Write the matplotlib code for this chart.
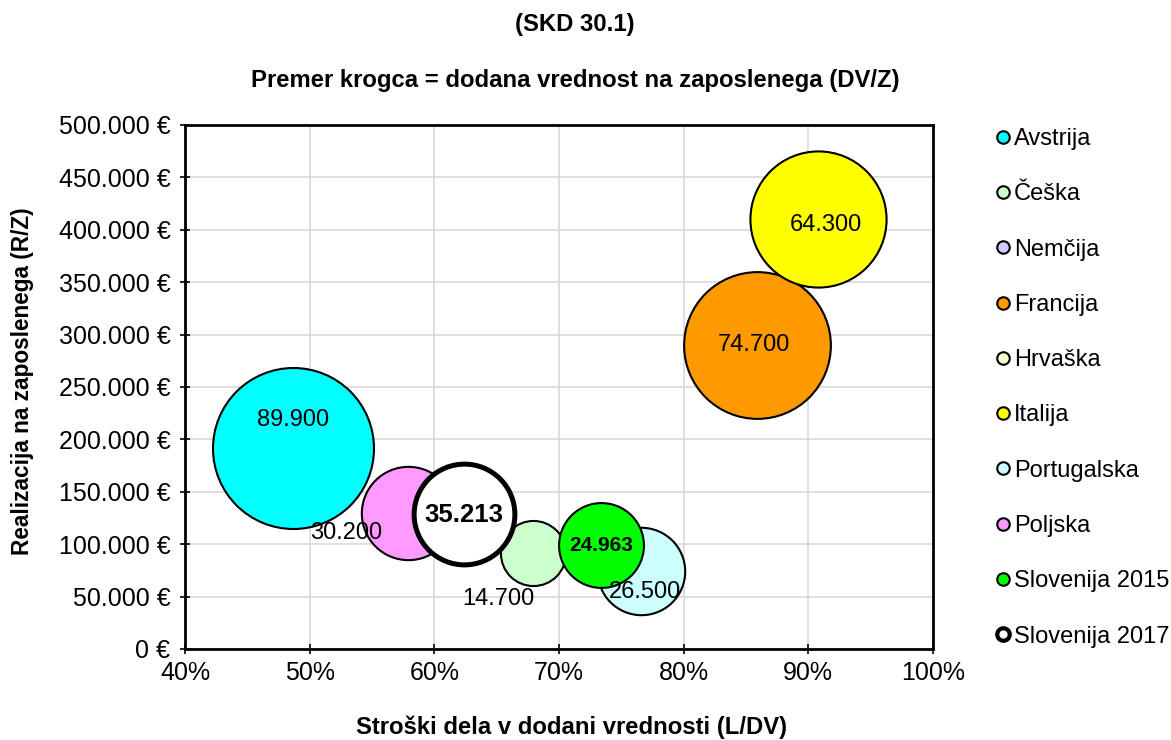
import matplotlib
matplotlib.use("Agg")
import matplotlib.pyplot as plt
from matplotlib.lines import Line2D
from matplotlib.ticker import FuncFormatter
import numpy as np

plt.rcParams['font.family'] = ['Liberation Sans', 'DejaVu Sans']

# ---- data ----
legend_names = ["Avstrija", "Češka", "Nemčija", "Francija", "Hrvaška", "Italija",
                "Portugalska", "Poljska", "Slovenija 2015", "Slovenija 2017"]
legend_colors = ["#00FFFF", "#CCFFCC", "#CCCCFF", "#FF9900", "#FFFFCC", "#FFFF00",
                 "#CCFFFF", "#FF99FF", "#00FF00", "#FFFFFF"]

bubble_names = ["Avstrija", "Češka", "Francija", "Italija", "Portugalska", "Poljska",
                "Slovenija 2015", "Slovenija 2017"]
labor_share = [48.7, 67.9, 85.9, 90.8, 76.6, 57.9, 73.4, 62.35]          # % L/DV
revenue_per_emp = [191800, 91300, 289600, 410500, 74400, 129800, 99500, 128800]  # R/Z
value_added = [89.9, 14.7, 74.7, 64.3, 26.5, 30.2, 24.963, 35.213]       # DV/Z (thousand)
value_labels = ["89.900", "14.700", "74.700", "64.300", "26.500", "30.200", "24.963", "35.213"]

x_ticks = [40, 50, 60, 70, 80, 90, 100]
y_ticks = [0, 50000, 100000, 150000, 200000, 250000, 300000, 350000, 400000, 450000, 500000]

# ---- figure ----
W, H = 1171, 740
fig = plt.figure(figsize=(W / 100, H / 100), dpi=100)
ax = fig.add_axes([185 / W, 91 / H, 748 / W, 524 / H])
ax.set_xlim(40, 100)
ax.set_ylim(0, 500000)

color_map = dict(zip(legend_names, legend_colors))
# bubble area proportional to value; diameter(px) = 16.98*sqrt(v)
K = (16.98 * 72 / 100) ** 2
label_off = {
    "Avstrija": (0, 28), "Češka": (-34, -46), "Francija": (-3, 0), "Italija": (8, -6),
    "Portugalska": (4, -21), "Poljska": (-62, -20), "Slovenija 2015": (0, -1),
    "Slovenija 2017": (0, -1),
}
for i, name in enumerate(bubble_names):
    lw = 3.6 if name == "Slovenija 2017" else 1.5
    ax.scatter(labor_share[i], revenue_per_emp[i], s=K * value_added[i],
               c=color_map[name], edgecolors="black", linewidths=lw, zorder=3 + i)
for i, name in enumerate(bubble_names):
    if name == "Slovenija 2017":
        fs, fw = 18.5, "bold"
    elif name == "Slovenija 2015":
        fs, fw = 15, "bold"
    else:
        fs, fw = 17, "normal"
    ax.annotate(value_labels[i], (labor_share[i], revenue_per_emp[i]),
                xytext=label_off[name], textcoords="offset pixels",
                ha="center", va="center", fontsize=fs, fontweight=fw, zorder=20)

ax.set_xticks(x_ticks)
ax.set_yticks(y_ticks)
ax.xaxis.set_major_formatter(FuncFormatter(lambda v, p: f"{int(v)}%"))
ax.yaxis.set_major_formatter(FuncFormatter(
    lambda v, p: (f"{int(v):,}".replace(",", ".") + " €")))
ax.tick_params(axis="both", labelsize=18, length=7, width=1.2, direction="inout")
ax.tick_params(axis="y", pad=7)
ax.tick_params(axis="x", pad=5)
ax.grid(True, color="#D9D9D9", linewidth=1.2, zorder=0)
ax.set_axisbelow(True)
for sp in ax.spines.values():
    sp.set_linewidth(2)
    sp.set_color("black")

ax.set_xlabel("Stroški dela v dodani vrednosti (L/DV)", fontsize=17.2, fontweight="bold")
ax.xaxis.label.set_va("center")
ax.xaxis.set_label_coords((572 - 185) / 748, (649 - 727) / 524)
ax.set_ylabel("Realizacija na zaposlenega (R/Z)", fontsize=16.3, fontweight="bold")
ax.yaxis.label.set_va("center")
ax.yaxis.set_label_coords((23 - 185) / 748, (649 - 381.5) / 524)

fig.text(575 / W, 1 - 24 / H, "(SKD 30.1)", ha="center", va="center",
         fontsize=17.2, fontweight="bold")
fig.text(575.5 / W, 1 - 81 / H, "Premer krogca = dodana vrednost na zaposlenega (DV/Z)",
         ha="center", va="center", fontsize=17.2, fontweight="bold")

handles = []
for name, col in zip(legend_names, legend_colors):
    mew = 3 if name == "Slovenija 2017" else 1.5
    handles.append(Line2D([], [], marker="o", linestyle="none", markersize=9,
                          markerfacecolor=col, markeredgecolor="black", markeredgewidth=mew))
fig.legend(handles, legend_names, loc="upper left", bbox_to_anchor=(994 / W, 1 - 128 / H),
           frameon=False, fontsize=17, labelspacing=1.41, handletextpad=0.05,
           handlelength=0.8, borderaxespad=0, borderpad=0)

fig.savefig("out.png", dpi=100)
